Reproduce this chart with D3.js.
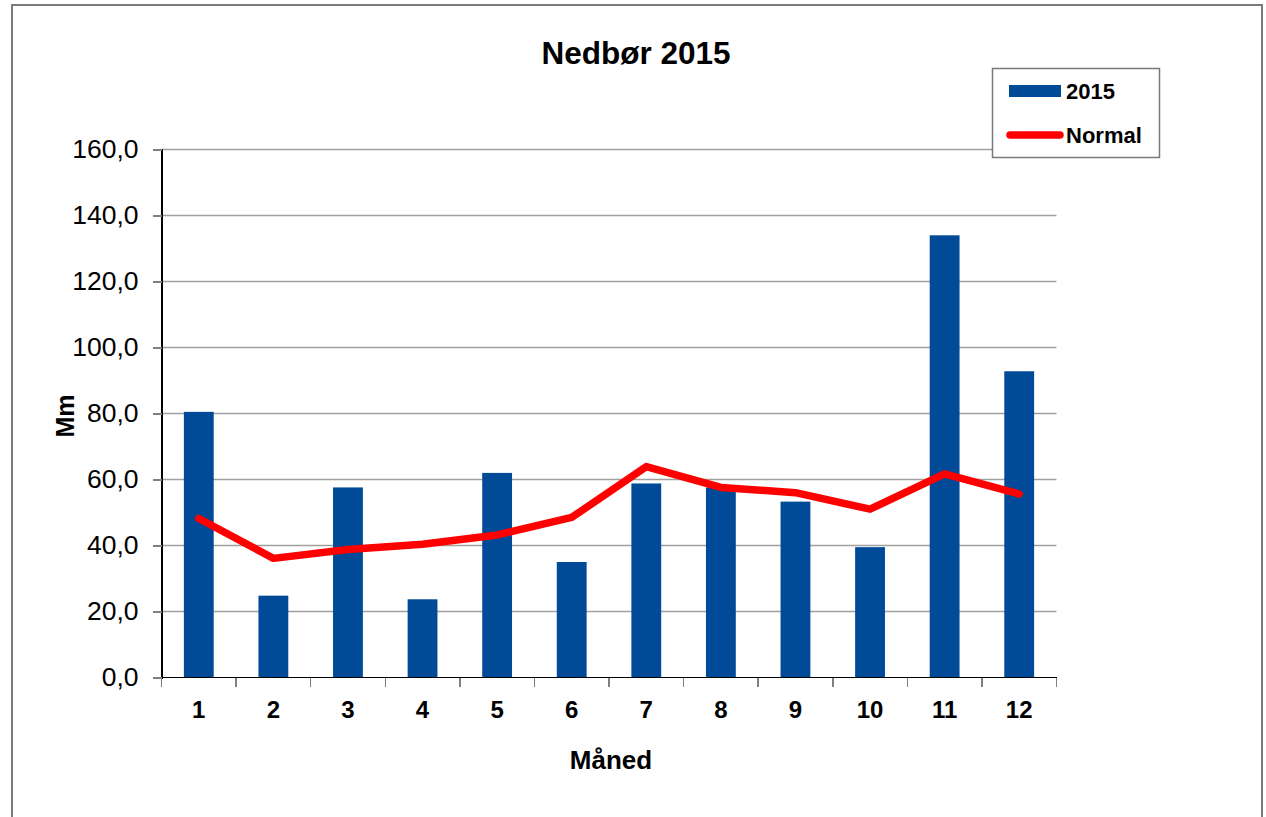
<!DOCTYPE html>
<html>
  <head>
    <meta charset="utf-8">
    <style type="text/css">
      body { margin: 0; background: #fff; }
      text { font-family: "Liberation Sans", Arial, sans-serif; fill: #000; }
      .grid line { stroke: #a0a0a0; stroke-width: 1.5; }
      .axis path, .axis line { shape-rendering: crispEdges; }
    </style>
  </head>
  <body>
    <script src="https://d3js.org/d3.v7.min.js"></script>
    <script>
      // data
      var months = ["1", "2", "3", "4", "5", "6", "7", "8", "9", "10", "11", "12"];
      var rain2015 = [80.5, 24.8, 57.6, 23.7, 62.0, 35.0, 58.8, 57.6, 53.3, 39.5, 134.0, 92.8];
      var normal = [48.2, 36.1, 38.8, 40.4, 43.2, 48.5, 63.9, 57.6, 56.0, 51.0, 61.7, 55.6];
      var yTicks = [0, 20, 40, 60, 80, 100, 120, 140, 160];

      var width = 1266, height = 817;
      var plotL = 161.5, plotR = 1056.5, plotT = 149.5, plotB = 677.5;

      var svg = d3.select("body").append("svg")
          .attr("width", width)
          .attr("height", height);

      // outer chart border (bottom runs off the page)
      svg.append("path")
          .attr("d", "M12,822 L12,5 L1262,5 L1262,822")
          .attr("fill", "none")
          .attr("stroke", "#7a7a7a")
          .attr("stroke-width", 2);

      var x = d3.scaleBand()
          .domain(months)
          .range([plotL, plotR])
          .paddingInner(0.6)
          .paddingOuter(0.3);

      var xEdge = d3.scaleLinear().domain([0, months.length]).range([plotL, plotR]);

      var y = d3.scaleLinear()
          .domain([0, 160])
          .range([plotB, plotT]);

      // gridlines
      svg.append("g").attr("class", "grid")
        .selectAll("line")
        .data(yTicks.slice(1))
        .enter().append("line")
          .attr("x1", plotL).attr("x2", plotR)
          .attr("y1", function(d) { return y(d); })
          .attr("y2", function(d) { return y(d); });

      // bars
      svg.append("g")
        .selectAll("rect")
        .data(rain2015)
        .enter().append("rect")
          .attr("x", function(d, i) { return x(months[i]); })
          .attr("width", x.bandwidth())
          .attr("y", function(d) { return y(d); })
          .attr("height", function(d) { return y(0) - y(d); })
          .attr("fill", "#004a98");

      // normal line
      var line = d3.line()
          .x(function(d, i) { return x(months[i]) + x.bandwidth() / 2; })
          .y(function(d) { return y(d); });

      svg.append("path")
          .datum(normal)
          .attr("d", line)
          .attr("fill", "none")
          .attr("stroke", "#ff0000")
          .attr("stroke-width", 7.5)
          .attr("stroke-linejoin", "round")
          .attr("stroke-linecap", "round");

      // y axis
      var yAxis = svg.append("g")
          .attr("class", "axis")
          .attr("transform", "translate(" + plotL + ",0)")
          .call(d3.axisLeft(y).tickValues(yTicks).tickSize(9).tickPadding(14)
                .tickFormat(function(d) { return d3.format(".1f")(d).replace(".", ","); }));
      yAxis.select(".domain").attr("stroke", "#000").attr("stroke-width", 1.5);
      yAxis.selectAll(".tick line").attr("stroke", "#808080").attr("stroke-width", 1.5);
      yAxis.selectAll("text")
          .attr("font-size", 26.5)
          .attr("font-family", "Liberation Sans, Arial, sans-serif")
          .attr("fill", "#000");

      // x axis: ticks at category boundaries
      var xAxis = svg.append("g")
          .attr("class", "axis")
          .attr("transform", "translate(0," + plotB + ")");
      xAxis.append("line")
          .attr("x1", plotL).attr("x2", plotR)
          .attr("stroke", "#000").attr("stroke-width", 1.5);
      xAxis.selectAll(".edge")
        .data(d3.range(months.length + 1))
        .enter().append("line")
          .attr("class", "edge")
          .attr("x1", function(d) { return xEdge(d); })
          .attr("x2", function(d) { return xEdge(d); })
          .attr("y1", 0).attr("y2", 9)
          .attr("stroke", "#808080").attr("stroke-width", 1.5);
      xAxis.selectAll("text")
        .data(months)
        .enter().append("text")
          .attr("x", function(d) { return x(d) + x.bandwidth() / 2; })
          .attr("y", 40)
          .attr("text-anchor", "middle")
          .attr("font-size", 24)
          .attr("font-weight", "bold")
          .text(function(d) { return d; });

      // titles
      svg.append("text")
          .attr("x", 636).attr("y", 64)
          .attr("text-anchor", "middle")
          .attr("font-size", 31.5)
          .attr("font-weight", "bold")
          .text("Nedbør 2015");

      svg.append("text")
          .attr("x", 611).attr("y", 769)
          .attr("text-anchor", "middle")
          .attr("font-size", 26)
          .attr("font-weight", "bold")
          .text("Måned");

      svg.append("text")
          .attr("transform", "translate(74,416) rotate(-90)")
          .attr("text-anchor", "middle")
          .attr("font-size", 25)
          .attr("font-weight", "bold")
          .text("Mm");

      // legend
      var legend = svg.append("g").attr("transform", "translate(992,68)");
      legend.append("rect")
          .attr("x", 0.5).attr("y", 0.5)
          .attr("width", 167).attr("height", 89)
          .attr("fill", "#fff")
          .attr("stroke", "#7a7a7a")
          .attr("stroke-width", 1.5);
      legend.append("rect")
          .attr("x", 17).attr("y", 17)
          .attr("width", 52).attr("height", 12)
          .attr("fill", "#004a98");
      legend.append("line")
          .attr("x1", 18).attr("x2", 68)
          .attr("y1", 67).attr("y2", 67)
          .attr("stroke", "#ff0000")
          .attr("stroke-width", 7.5)
          .attr("stroke-linecap", "round");
      legend.append("text")
          .attr("x", 74).attr("y", 31)
          .attr("font-size", 22)
          .attr("font-weight", "bold")
          .text("2015");
      legend.append("text")
          .attr("x", 74).attr("y", 75)
          .attr("font-size", 22)
          .attr("font-weight", "bold")
          .text("Normal");
    </script>
  </body>
</html>
